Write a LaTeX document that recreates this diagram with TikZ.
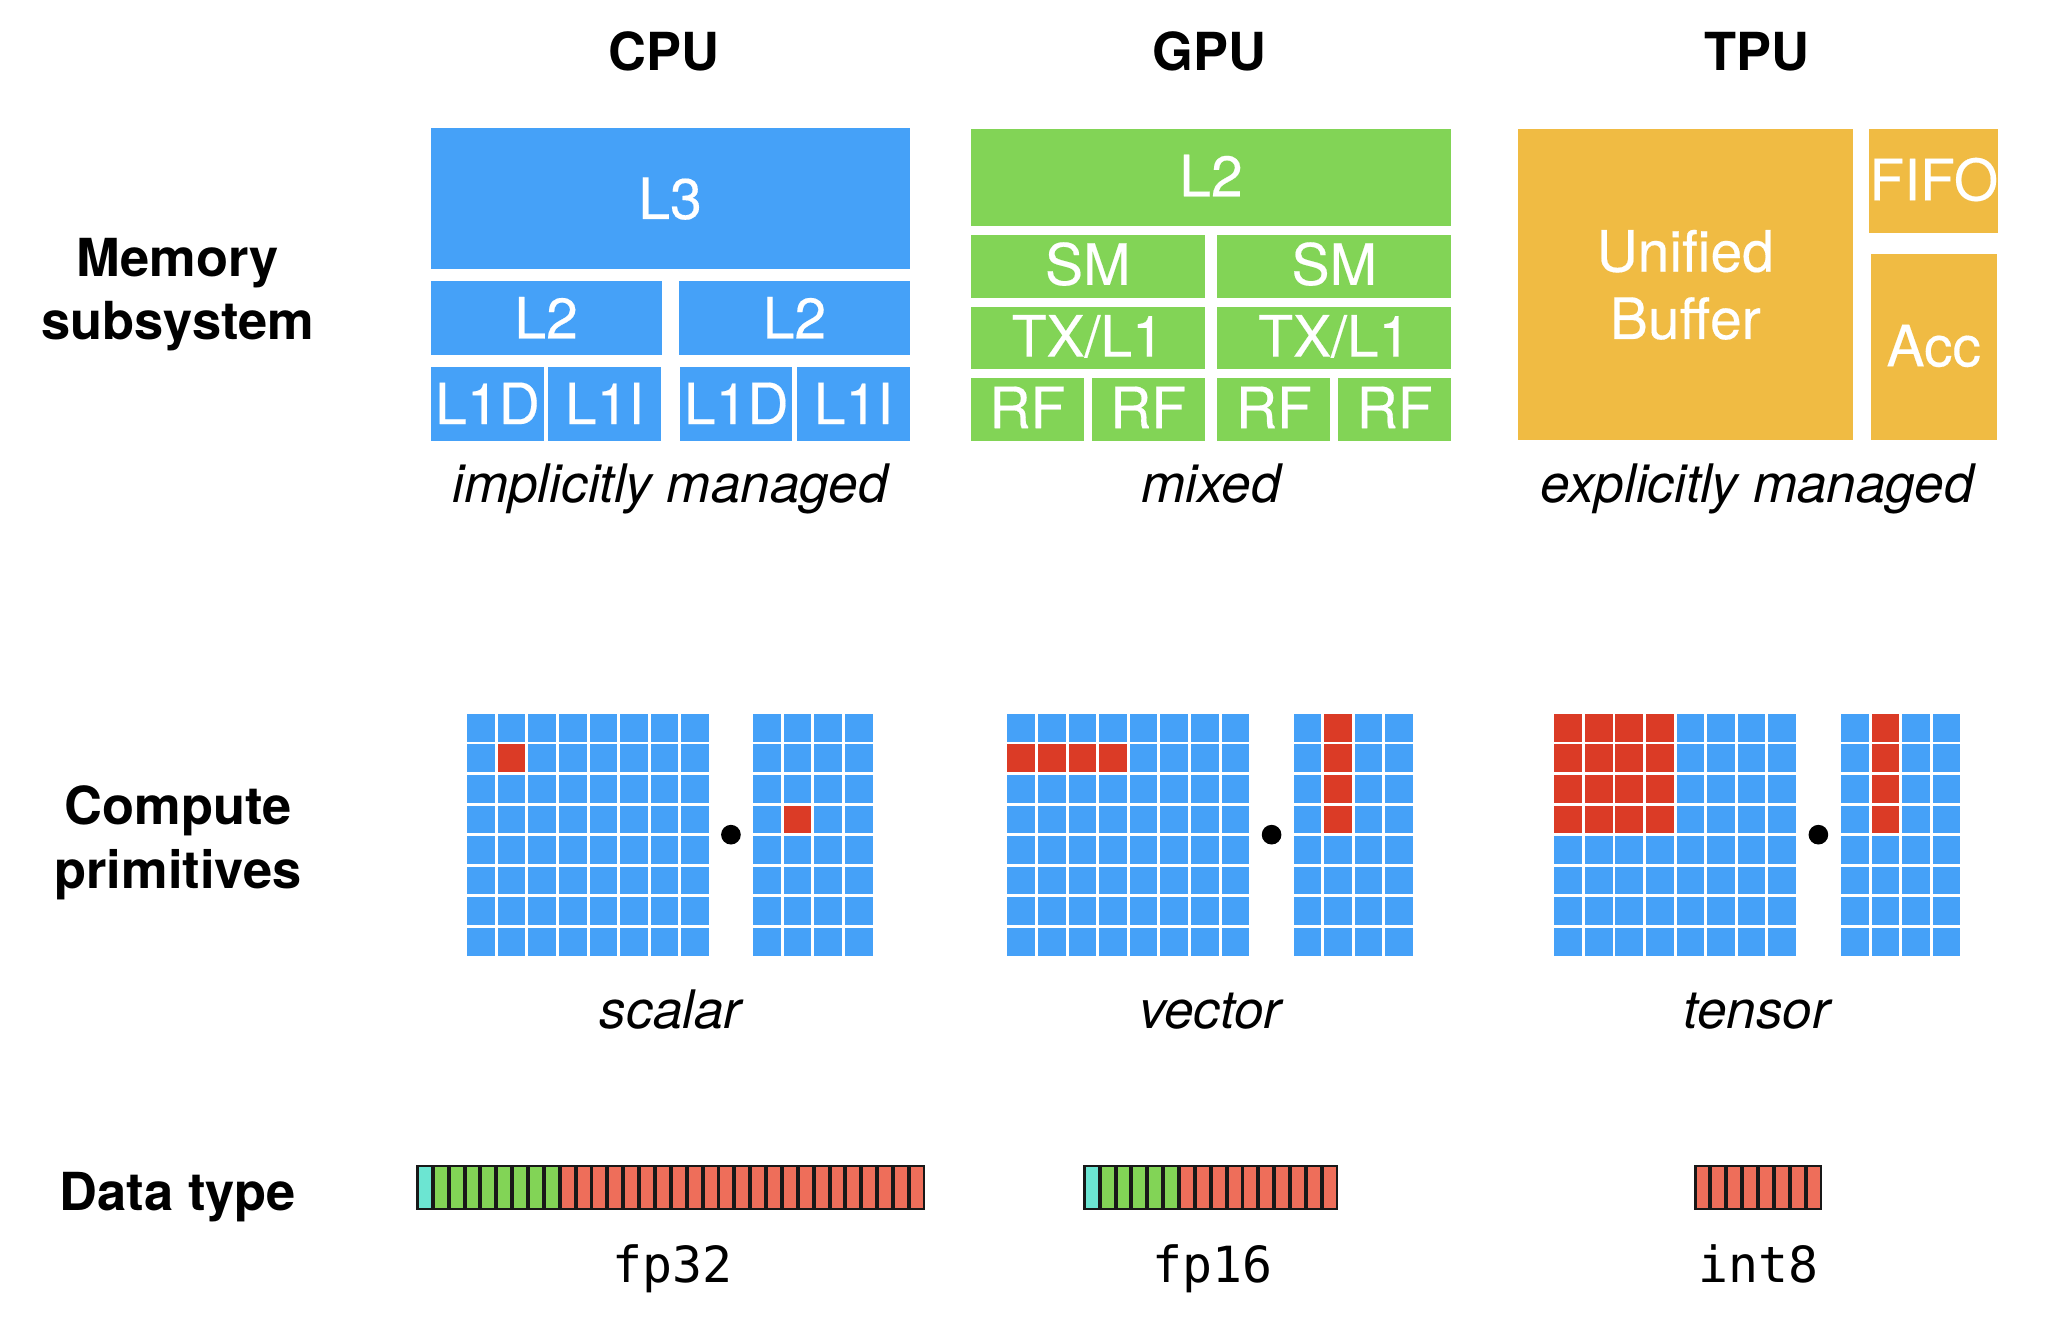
\documentclass[tikz,border=0pt]{standalone}
\usepackage{fontspec}
\setmainfont{TeX Gyre Heros}
\setmonofont{DejaVu Sans Mono}
\newfontfamily\boxfont[FakeBold=0.3]{TeX Gyre Heros}
\definecolor{cpublue}{RGB}{69,161,248}
\definecolor{gpugreen}{RGB}{130,212,86}
\definecolor{tpuorange}{RGB}{240,187,67}
\definecolor{gridred}{RGB}{219,59,38}
\definecolor{bitcyan}{RGB}{108,229,210}
\definecolor{bitgreen}{RGB}{130,212,86}
\definecolor{bitred}{RGB}{238,110,90}
\definecolor{barline}{RGB}{24,24,24}
\def\unitsc{0.9955}
\newcommand\blk[7]{\node[#6, minimum width={((#4)-(#2))*\unitsc}, minimum height={((#5)-(#3))*\unitsc}] (#1) at ({((#2)+(#4))/2},{((#3)+(#5))/2}) {#7};}
\newcommand\cellgrid[4]{\foreach \c in {1,...,#3} \foreach \r in {1,...,#4} \fill[cpublue] ({#1+(\c-1)*23.43},{#2+(\r-1)*23.43}) rectangle ++(21.2,21.2);}
\newcommand\redcell[4]{\fill[gridred] ({#1+#3*23.43},{#2+#4*23.43}) rectangle ++(21.2,21.2);}
\newcommand\bitframe[3]{\fill[barline] (#1,#2) rectangle ++({1+12.16*#3},35);}
\newcommand\bitseg[5]{\foreach \i in {1,...,#4} \fill[#5] ({#1+2+(#3+\i-1)*12.16},{#2+2}) rectangle ++(9.16,31);}
\begin{document}
\begin{tikzpicture}[x=0.9955pt,y=-0.9955pt,
  membase/.style={inner sep=0pt, outer sep=0pt, text=white, font=\fontsize{43.5}{51.4}\boxfont},
  mem/.style={membase, text height=31pt, text depth=0pt},
  cpubox/.style={mem, fill=cpublue},
  gpubox/.style={mem, fill=gpugreen, text depth=2.5pt},
  tpubox/.style={mem, fill=tpuorange, text depth=1.5pt},
  ubbox/.style={membase, fill=tpuorange, align=center},
  headlab/.style={font=\fontsize{40}{48}\selectfont\bfseries, anchor=base, inner sep=0pt},
  notelab/.style={font=\fontsize{40.5}{48}\selectfont\itshape, anchor=base, inner sep=0pt},
  dtlab/.style={font=\fontsize{38}{45}\selectfont\ttfamily, anchor=base, inner sep=0pt},
  dotmark/.style={circle, fill=black, inner sep=0pt, minimum size=15pt}
]
\useasboundingbox (0,0) rectangle (1567.05,1025.22);

% titles
\node[headlab] (tcpu) at (508.5,54) {CPU};
\node[headlab] (tgpu) at (927,54) {GPU};
\node[headlab] (ttpu) at (1346.5,54) {TPU};

% row labels
\node[headlab] (rmemA) at (136.3,211.8) {Memory};
\node[headlab] (rmemB) at (136.3,260) {subsystem};
\node[headlab] (rcmpA) at (136.3,631.5) {Compute};
\node[headlab] (rcmpB) at (136.3,681) {primitives};
\node[headlab] (rdat) at (136.3,927.2) {Data type};

% CPU memory
\blk{l3}{330}{98}{697}{206.4}{cpubox}{L3}
\blk{l2a}{330}{215.3}{507}{272.2}{cpubox}{L2}
\blk{l2b}{520.6}{215.3}{697}{272.2}{cpubox}{L2}
\blk{l1da}{330.5}{280.9}{416.7}{338}{cpubox}{L1D}
\blk{l1ia}{420.2}{280.9}{506.4}{338}{cpubox}{L1I}
\blk{l1db}{521.4}{280.9}{607}{338}{cpubox}{L1D}
\blk{l1ib}{610.9}{280.9}{697}{338}{cpubox}{L1I}

% GPU memory
\blk{gl2}{744}{99}{1112}{173.2}{gpubox}{L2}
\blk{sma}{744}{179.9}{923.1}{228}{gpubox}{SM}
\blk{smb}{932.9}{179.9}{1112}{228}{gpubox}{SM}
\blk{txa}{744}{234.9}{923.1}{283}{gpubox}{TX/L1}
\blk{txb}{932.9}{234.9}{1112}{283}{gpubox}{TX/L1}
\blk{rfa}{744}{289.6}{830.6}{338}{gpubox}{RF}
\blk{rfb}{836.5}{289.6}{923.1}{338}{gpubox}{RF}
\blk{rfc}{932.9}{289.6}{1019.5}{338}{gpubox}{RF}
\blk{rfd}{1025.3}{289.6}{1112}{338}{gpubox}{RF}

% TPU memory
\blk{ub}{1163}{99}{1419.8}{337.5}{ubbox}{Unified\\Buffer}
\blk{fifo}{1433.6}{99}{1530}{178.4}{tpubox}{FIFO}
\blk{acc}{1433.6}{194.8}{1530}{337}{tpubox}{Acc}

% memory notes
\node[notelab] (ncpu) at (513.5,385) {implicitly managed};
\node[notelab] (ngpu) at (928,385) {mixed};
\node[notelab] (ntpu) at (1346.5,385) {explicitly managed};

% compute grids: CPU
\cellgrid{358}{547}{8}{8}
\cellgrid{577.2}{547}{4}{8}
\redcell{358}{547}{1}{1}
\redcell{577.2}{547}{1}{3}
\node[dotmark] (dcpu) at (560.1,639.6) {};

% GPU
\cellgrid{772}{547}{8}{8}
\cellgrid{991.2}{547}{4}{8}
\foreach \k in {0,...,3} {\redcell{772}{547}{\k}{1}}
\foreach \k in {0,...,3} {\redcell{991.2}{547}{1}{\k}}
\node[dotmark] (dgpu) at (974.4,639.6) {};

% TPU
\cellgrid{1191}{547}{8}{8}
\cellgrid{1410.7}{547}{4}{8}
\foreach \k in {0,...,3} {\foreach \m in {0,...,3} {\redcell{1191}{547}{\k}{\m}}}
\foreach \k in {0,...,3} {\redcell{1410.7}{547}{1}{\k}}
\node[dotmark] (dtpu) at (1393.4,639.6) {};

% compute notes
\node[notelab] (scal) at (514,788) {scalar};
\node[notelab] (vect) at (927.5,788) {vector};
\node[notelab] (tens) at (1346,788) {tensor};

% data type bars
\bitframe{319}{892.5}{32}
\bitseg{319}{892.5}{0}{1}{bitcyan}
\bitseg{319}{892.5}{1}{8}{bitgreen}
\bitseg{319}{892.5}{9}{23}{bitred}

\bitframe{830}{892.5}{16}
\bitseg{830}{892.5}{0}{1}{bitcyan}
\bitseg{830}{892.5}{1}{5}{bitgreen}
\bitseg{830}{892.5}{6}{10}{bitred}

\bitframe{1298}{892.5}{8}
\bitseg{1298}{892.5}{0}{8}{bitred}

\node[dtlab] (fp32) at (515,983) {fp32};
\node[dtlab] (fp16) at (929,983) {fp16};
\node[dtlab] (int8) at (1347.5,983) {int8};
\end{tikzpicture}
\end{document}
